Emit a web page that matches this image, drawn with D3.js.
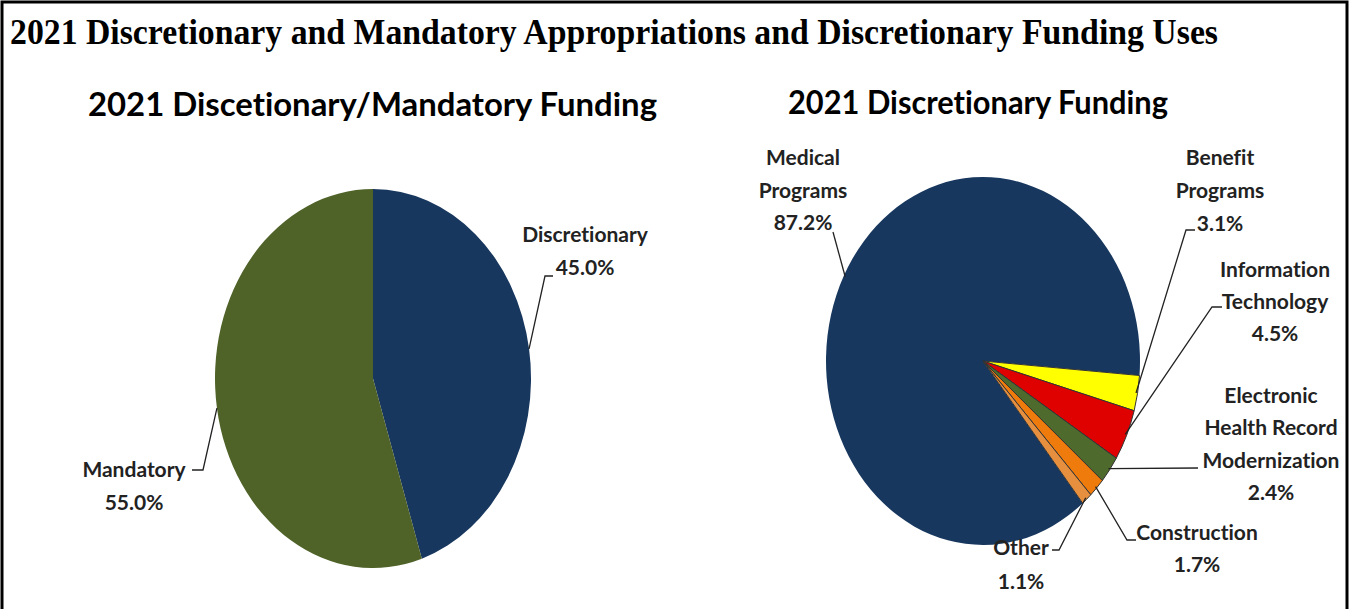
<!DOCTYPE html>
<html>
<head>
<meta charset="utf-8">
<script src="https://cdn.jsdelivr.net/npm/d3@7"></script>
<style>
  html, body { margin: 0; padding: 0; background: #fff; }
  svg { display: block; }
  text { font-variant-ligatures: none; font-feature-settings: "liga" 0, "clig" 0; }
</style>
</head>
<body>
<svg id="chart" width="1353" height="609"></svg>
<script>
// ---- Data ----
const mainTitle = "2021 Discretionary and Mandatory Appropriations and Discretionary Funding Uses";
const leftTitle = "2021 Discetionary/Mandatory Funding";
const rightTitle = "2021 Discretionary Funding";

const leftCategories = ["Discretionary", "Mandatory"];
const leftValues = [45.0, 55.0];

const rightCategories = ["Medical Programs", "Benefit Programs", "Information Technology",
  "Electronic Health Record Modernization", "Construction", "Other"];
const rightValues = [87.2, 3.1, 4.5, 2.4, 1.7, 1.1];

// ---- Styles / layout ----
const leftColors = ["#17375E", "#4F6228"];
const rightColors = ["#17375E", "#FFFF00", "#DF0000", "#4E6A2C", "#EF7B0C", "#E6903F"];

const labelFont = "Lato, 'Open Sans', sans-serif";

const svg = d3.select("#chart");
svg.append("rect").attr("width", 1353).attr("height", 609).attr("fill", "#fff");
// frame
svg.append("rect").attr("x", 2).attr("y", 2).attr("width", 1345).attr("height", 620)
  .attr("fill", "none").attr("stroke", "#000").attr("stroke-width", 3);

svg.append("text")
  .attr("x", 10).attr("y", 44)
  .attr("font-family", "'Liberation Serif', 'Times New Roman', serif")
  .attr("font-weight", "bold").attr("font-size", 35)
  .attr("textLength", 1208).attr("lengthAdjust", "spacingAndGlyphs")
  .attr("fill", "#000")
  .text(mainTitle);

svg.append("text")
  .attr("x", 88).attr("y", 116)
  .attr("font-family", labelFont).attr("font-weight", "bold").attr("font-size", 32)
  .attr("textLength", 569).attr("lengthAdjust", "spacingAndGlyphs")
  .attr("fill", "#000").text(leftTitle);

svg.append("text")
  .attr("x", 788).attr("y", 114)
  .attr("font-family", labelFont).attr("font-weight", "bold").attr("font-size", 32)
  .attr("textLength", 380).attr("lengthAdjust", "spacingAndGlyphs")
  .attr("fill", "#000").text(rightTitle);

function drawPie(opts) {
  const { cx, cy, rx, ry, values, categories, colors, startDeg, stroke, labels } = opts;
  const R = 100;
  const start = startDeg * Math.PI / 180;
  const pie = d3.pie().sort(null).startAngle(start).endAngle(start + 2 * Math.PI);
  const arcs = pie(values);
  const arc = d3.arc().innerRadius(0).outerRadius(R);
  const g = svg.append("g")
    .attr("transform", `translate(${cx},${cy}) scale(${rx / R},${ry / R})`);
  g.selectAll("path").data(arcs).join("path")
    .attr("d", arc)
    .attr("fill", (d, i) => colors[i])
    .attr("stroke", (d, i) => stroke ? stroke[i] : "none")
    .attr("stroke-width", 1)
    .attr("vector-effect", "non-scaling-stroke");

  arcs.forEach((a, i) => {
    const L = labels[i];
    const mid = (a.startAngle + a.endAngle) / 2;
    const k = L.k || 1;
    const ax = cx + rx * k * Math.sin(mid);
    const ay = cy - ry * k * Math.cos(mid);
    const pts = [[ax, ay]].concat(L.path);
    svg.append("path")
      .attr("d", d3.line()(pts))
      .attr("fill", "none").attr("stroke", "#222").attr("stroke-width", 1.3);
    const pct = d3.format(".1f")(values[i]) + "%";
    const lines = L.lines.concat([pct]);
    const t = svg.append("text")
      .attr("font-family", labelFont).attr("font-weight", "bold")
      .attr("font-size", 21).attr("fill", "#222")
      .attr("text-anchor", "middle");
    lines.forEach((s, j) => {
      t.append("tspan").attr("x", L.x).attr("y", L.y + j * L.lh).text(s);
    });
  });
}

drawPie({
  cx: 373, cy: 378.5, rx: 158, ry: 189.5,
  values: leftValues, categories: leftCategories, colors: leftColors,
  startDeg: 0, stroke: null,
  labels: [
    { lines: ["Discretionary"], x: 585, y: 242, lh: 33, path: [[545, 276], [553, 276]] },
    { lines: ["Mandatory"], x: 134, y: 477, lh: 33, path: [[203, 470], [192, 470]] }
  ]
});

drawPie({
  cx: 983, cy: 361, rx: 157, ry: 184,
  values: rightValues, categories: rightCategories, colors: rightColors,
  startDeg: -219.4, stroke: ["none", "#333", "#333", "#333", "#333", "#333"],
  labels: [
    { lines: ["Medical", "Programs"], x: 803, y: 165, lh: 32.5, k: 0.99, path: [[833, 232]] },
    { lines: ["Benefit", "Programs"], x: 1220, y: 165, lh: 33, k: 0.99, path: [[1186, 230], [1195, 230]] },
    { lines: ["Information", "Technology"], x: 1275, y: 277, lh: 32, k: 0.99, path: [[1212, 307], [1222, 307]] },
    { lines: ["Electronic", "Health Record", "Modernization"], x: 1271, y: 403, lh: 32.3, k: 0.99, path: [[1198, 468]] },
    { lines: ["Construction"], x: 1197, y: 540, lh: 32, k: 0.99, path: [[1127, 540], [1136, 540]] },
    { lines: ["Other"], x: 1021, y: 555, lh: 34, k: 0.99, path: [[1059, 550], [1052, 550]] }
  ]
});
</script>
</body>
</html>
